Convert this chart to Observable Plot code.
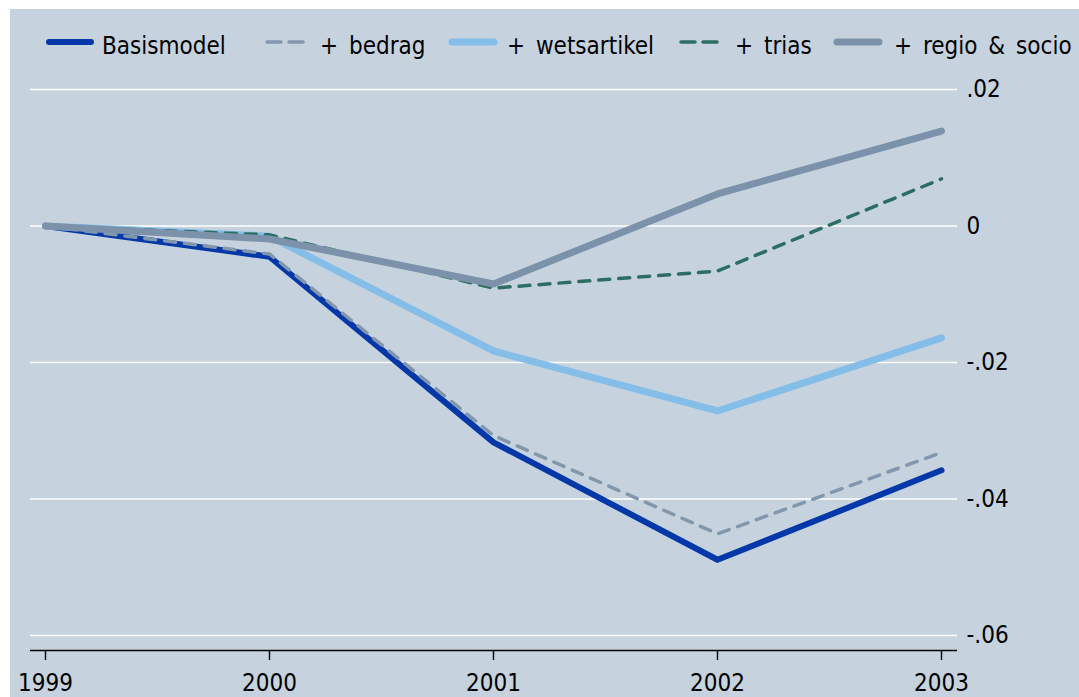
<!DOCTYPE html>
<html><head><meta charset="utf-8">
<script src="https://cdn.jsdelivr.net/npm/d3@7"></script>
<script src="https://cdn.jsdelivr.net/npm/@observablehq/plot@0.6"></script>
<style>
html,body{margin:0;padding:0;background:#ffffff;}
#wrap{position:absolute;left:10px;top:9px;width:1069px;height:688px;background:#c6d3df;overflow:hidden;
  font-family:"DejaVu Sans Condensed","DejaVu Sans",sans-serif;font-stretch:condensed;}
#legend{position:absolute;left:0;top:0;}
#chart{position:absolute;left:0;top:62px;}
</style>
</head><body>
<div id="wrap"><svg id="legend" width="1069" height="62"></svg><div id="chart"></div></div>
<script>
// ---- data ----
const years = [1999, 2000, 2001, 2002, 2003];
const seriesNames = ["Basismodel", "+ bedrag", "+ wetsartikel", "+ trias", "+ regio & socio"];
const basismodel  = [0, -0.0045, -0.0317, -0.0489, -0.0358];
const bedrag      = [0, -0.0041, -0.0307, -0.0451, -0.0332];
const wetsartikel = [0, -0.0015, -0.0183, -0.0271, -0.0164];
const trias       = [0, -0.0013, -0.0091, -0.0066,  0.0069];
const regioSocio  = [0, -0.0019, -0.0085,  0.0047,  0.0139];
const yTicks = [0.02, 0, -0.02, -0.04, -0.06];

// ---- styles ----
const styles = {
  "Basismodel":      {stroke: "#0438a8", width: 6,   dash: null},
  "+ bedrag":        {stroke: "#8297ac", width: 3.5, dash: "11,9"},
  "+ wetsartikel":   {stroke: "#84bde8", width: 7,   dash: null},
  "+ trias":         {stroke: "#2d6e62", width: 3.5, dash: "11,9"},
  "+ regio & socio": {stroke: "#7b92aa", width: 7,   dash: null}
};
const seriesValues = [basismodel, bedrag, wetsartikel, trias, regioSocio];
const rows = seriesNames.flatMap((name, i) => years.map((yr, j) => ({series: name, year: yr, value: seriesValues[i][j]})));

const fontFamily = '"DejaVu Sans Condensed","DejaVu Sans",sans-serif';
const fmt = d => d === 0 ? "0" : (d < 0 ? "-" : "") + Math.abs(d).toFixed(2).replace(/^0/, "");

const lineMarks = seriesNames.map(name => Plot.line(rows.filter(r => r.series === name), {
  x: "year", y: "value", stroke: styles[name].stroke, strokeWidth: styles[name].width,
  strokeDasharray: styles[name].dash, strokeLinecap: "round", strokeLinejoin: "round"
}));

const chart = Plot.plot({
  width: 1069, height: 626,
  marginTop: 18, marginBottom: 62, marginLeft: 20, marginRight: 122,
  style: {background: "transparent", fontFamily, fontSize: "24px", color: "#000", fontStretch: "condensed"},
  x: {domain: [1999, 2003], insetLeft: 15, insetRight: 16},
  y: {domain: [-0.06, 0.02]},
  marks: [
    Plot.ruleY(yTicks, {stroke: "#ffffff", strokeWidth: 1.6}),
    Plot.ruleY([-0.06], {dy: 15, stroke: "#000", strokeWidth: 1.4}),
    Plot.axisX({ticks: years, tickFormat: d => String(d), tickSize: 10, tickPadding: 13, dy: 15, stroke: "#000", strokeWidth: 1.4, label: null}),
    Plot.axisY({anchor: "right", ticks: yTicks, tickFormat: fmt, tickSize: 0, tickPadding: 9, label: null}),
    ...lineMarks
  ]
});
document.getElementById("chart").appendChild(chart);

// ---- legend ----
const legendLayout = [
  {x1: 39, x2: 81, tx: 92},
  {x1: 257, x2: 293, tx: 310},
  {x1: 442, x2: 484, tx: 497},
  {x1: 671, x2: 709, tx: 725},
  {x1: 827, x2: 869, tx: 884}
];
const ns = "http://www.w3.org/2000/svg";
const leg = document.getElementById("legend");
seriesNames.forEach((name, i) => {
  const L = legendLayout[i], s = styles[name];
  const ln = document.createElementNS(ns, "line");
  ln.setAttribute("x1", L.x1); ln.setAttribute("x2", L.x2);
  ln.setAttribute("y1", 33); ln.setAttribute("y2", 33);
  ln.setAttribute("stroke", s.stroke); ln.setAttribute("stroke-width", s.width);
  ln.setAttribute("stroke-linecap", "round");
  if (s.dash) ln.setAttribute("stroke-dasharray", "14,8");
  leg.appendChild(ln);
  const t = document.createElementNS(ns, "text");
  t.setAttribute("x", L.tx); t.setAttribute("y", 45);
  t.setAttribute("font-family", fontFamily); t.setAttribute("font-size", "24px");
  t.setAttribute("font-stretch", "condensed");
  t.setAttribute("word-spacing", "4px");
  t.setAttribute("fill", "#000");
  t.textContent = name;
  leg.appendChild(t);
});
</script>
</body></html>
